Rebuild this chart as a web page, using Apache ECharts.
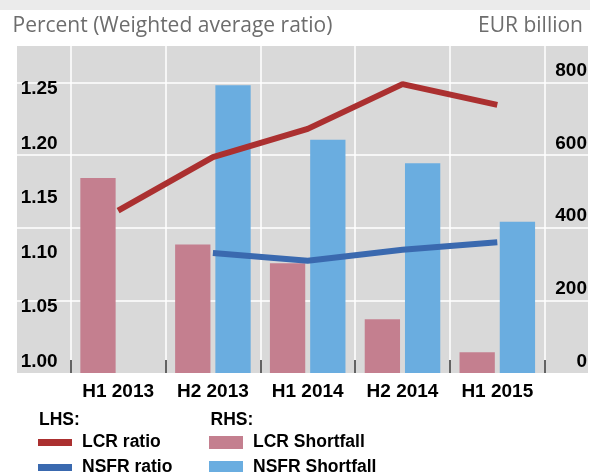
<!DOCTYPE html>
<html>
<head>
<meta charset="utf-8">
<title>LCR / NSFR</title>
<script src="https://cdn.jsdelivr.net/npm/echarts@6/dist/echarts.min.js"></script>
<style>
  html, body { margin: 0; padding: 0; background: #fff; }
  #chart { width: 590px; height: 472px; }
</style>
</head>
<body>
<div id="chart"></div>
<script>
  // data
  var periods = ['H1 2013', 'H2 2013', 'H1 2014', 'H2 2014', 'H1 2015'];
  var lcrRatio = [1.149, 1.198, 1.224, 1.265, 1.246];
  var nsfrRatio = [null, 1.110, 1.103, 1.113, 1.12];
  var lcrShortfall = [537, 354, 302, 148, 57];
  var nsfrShortfall = [null, 792, 642, 577, 416];

  var labelFont = 'Liberation Sans, Arial, sans-serif';

  var chart = echarts.init(document.getElementById('chart'));

  // one legend per entry, so the two columns stay where they are
  function legendItem(name, left, top, h) {
    return {
      data: [name], left: left, top: top, padding: 0, itemGap: 0,
      icon: 'rect', itemWidth: 34, itemHeight: h, selectedMode: false,
      textStyle: { fontFamily: labelFont, fontWeight: 'bold', fontSize: 17.5, color: '#000', lineHeight: 25, padding: [0, 0, 0, 5] }
    };
  }

  var option = {
    animation: false,
    graphic: [
      { type: 'rect', shape: { x: 0, y: 0, width: 590, height: 10 }, style: { fill: '#ebebeb' }, silent: true },
      { type: 'text', x: 12.5, y: 26.3, style: { text: 'Percent (Weighted average ratio)', fill: '#6d6d6d',
        font: '21px "Open Sans", sans-serif', textVerticalAlign: 'middle' } },
      { type: 'text', x: 583, y: 26.3, style: { text: 'EUR billion', fill: '#6d6d6d', textAlign: 'right',
        font: '21px "Open Sans", sans-serif', textVerticalAlign: 'middle' } },
      { type: 'text', x: 39, y: 420.5, style: { text: 'LHS:', fill: '#000', font: 'bold 17.5px ' + labelFont, textVerticalAlign: 'middle' } },
      { type: 'text', x: 210.5, y: 420.5, style: { text: 'RHS:', fill: '#000', font: 'bold 17.5px ' + labelFont, textVerticalAlign: 'middle' } }
    ],
    grid: [
      // full grey panel
      { left: 17, right: 0, top: 46, bottom: 99, show: true, backgroundColor: '#d9d9d9', borderWidth: 0 },
      // category area
      { left: 70.7, right: 45.3, top: 46, bottom: 99 }
    ],
    legend: [
      legendItem('LCR ratio', 38, 430, 7),
      legendItem('NSFR ratio', 38, 455, 7),
      legendItem('LCR Shortfall', 209, 430, 13),
      legendItem('NSFR Shortfall', 209, 455, 13)
    ],
    xAxis: [
      { gridIndex: 0, type: 'value', min: 0, max: 1, show: false },
      {
        gridIndex: 1, type: 'category', data: periods,
        axisLine: { show: false },
        axisTick: { show: true, inside: true, length: 13, lineStyle: { color: '#333', width: 1.5 } },
        axisLabel: { margin: 9, fontFamily: labelFont, fontWeight: 'bold', fontSize: 19, color: '#000', lineHeight: 19 },
        splitLine: { show: true, lineStyle: { color: '#fff', width: 1.5 } }
      }
    ],
    yAxis: [
      {
        // right hand labels + horizontal grid lines across the panel
        gridIndex: 0, type: 'value', position: 'right', min: 0, max: 900, interval: 200,
        axisLine: { show: false }, axisTick: { show: false },
        axisLabel: { inside: true, margin: 1, showMaxLabel: false, verticalAlign: 'bottom', lineHeight: 23,
          fontFamily: labelFont, fontWeight: 'bold', fontSize: 19, color: '#000' },
        splitLine: { show: true, showMinLine: false, showMaxLine: false, lineStyle: { color: '#fff', width: 1.5 } }
      },
      {
        gridIndex: 1, type: 'value', position: 'left', min: 1, max: 1.3, interval: 0.05,
        axisLine: { show: false }, axisTick: { show: false }, splitLine: { show: false },
        axisLabel: { margin: 50, align: 'left', showMaxLabel: false, verticalAlign: 'bottom', lineHeight: 23,
          fontFamily: labelFont, fontWeight: 'bold', fontSize: 19, color: '#000',
          formatter: function (v) { return v.toFixed(2); } }
      },
      {
        gridIndex: 1, type: 'value', position: 'right', min: 0, max: 900, interval: 200, show: false,
        splitLine: { show: false }
      }
    ],
    series: [
      {
        name: 'LCR Shortfall', type: 'bar', xAxisIndex: 1, yAxisIndex: 2,
        data: lcrShortfall, barWidth: 35.3, barGap: '14%', itemStyle: { color: '#c47f8f' }, z: 2
      },
      {
        name: 'NSFR Shortfall', type: 'bar', xAxisIndex: 1, yAxisIndex: 2,
        data: nsfrShortfall, barWidth: 35.3, barGap: '14%', itemStyle: { color: '#6aade0' }, z: 2
      },
      {
        name: 'LCR ratio', type: 'line', xAxisIndex: 1, yAxisIndex: 1, data: lcrRatio,
        symbol: 'none', color: '#ab3030', lineStyle: { width: 6, color: '#ab3030' }, z: 5
      },
      {
        name: 'NSFR ratio', type: 'line', xAxisIndex: 1, yAxisIndex: 1, data: nsfrRatio,
        symbol: 'none', color: '#3a69af', lineStyle: { width: 6, color: '#3a69af' }, z: 5
      }
    ]
  };

  chart.setOption(option);
</script>
</body>
</html>
